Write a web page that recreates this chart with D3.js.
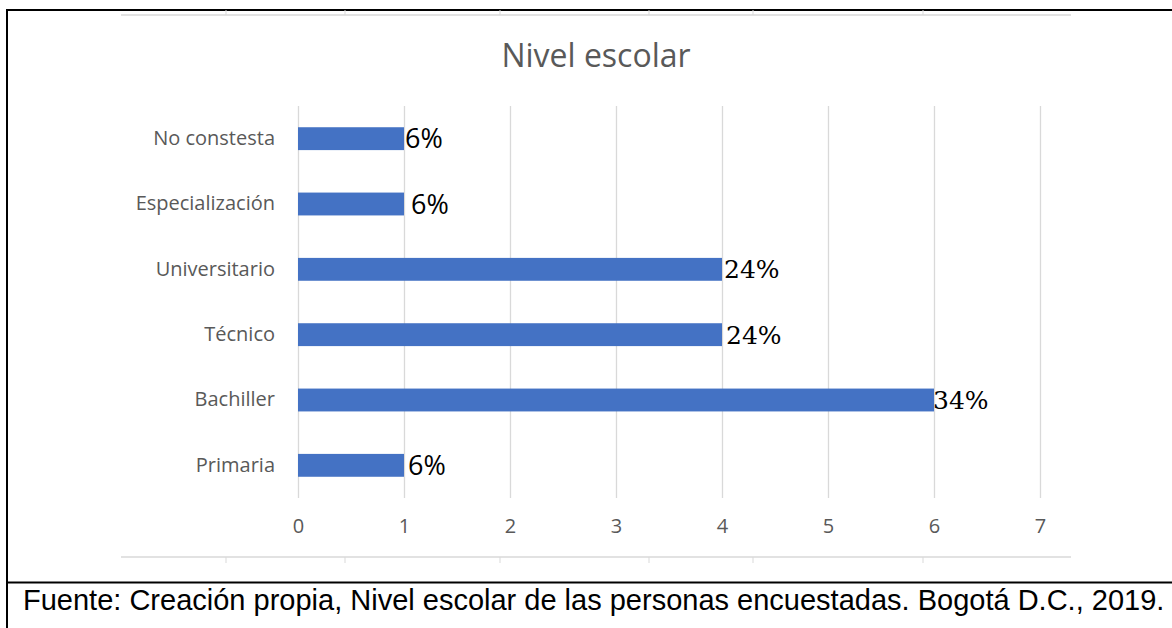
<!DOCTYPE html>
<html>
<head>
<meta charset="utf-8">
<script src="https://cdn.jsdelivr.net/npm/d3@7"></script>
<style>
  html, body { margin: 0; padding: 0; background: #fff; }
  svg { display: block; }
</style>
</head>
<body>
<div id="chart"></div>
<script>
//~~~~~~~~~~~~~~~~~~DATA
let categories = ['No constesta', 'Especialización', 'Universitario', 'Técnico', 'Bachiller', 'Primaria'];
let counts = [1, 1, 4, 4, 6, 1];
let percentLabels = ['6%', '6%', '24%', '24%', '34%', '6%'];
let xTicks = [0, 1, 2, 3, 4, 5, 6, 7];
let titleText = 'Nivel escolar';
let captionText = 'Fuente: Creación propia, Nivel escolar de las personas encuestadas. Bogotá D.C., 2019.';

//~~~~~~~~~~~~~~~~~~LAYOUT
let width = 1172;
let height = 628;
let plotLeft = 298, plotRight = 1040;
let plotTop = 106, plotBottom = 498;
let grey = '#595959';
let gridGrey = '#d9d9d9';
let barBlue = '#4472c4';
//small horizontal nudge of the value labels, as placed in the original
let labelNudge = [1, 7, 2, 4, -1, 4];

let svg = d3.select('#chart')
  .append('svg')
  .attr('width', width)
  .attr('height', height);

//scales
let x = d3.scaleLinear()
  .domain([0, 7])
  .range([plotLeft, plotRight]);

let y = d3.scaleBand()
  .domain(categories)
  .range([plotTop, plotBottom])
  .paddingInner(0.65)
  .paddingOuter(0.325);

//~~~~~~~~~~~~~~~~~~FRAME (black border + caption separator)
svg.append('line')
  .attr('x1', 7).attr('x2', width)
  .attr('y1', 10).attr('y2', 10)
  .attr('stroke', '#000').attr('stroke-width', 2);
svg.append('line')
  .attr('x1', 7).attr('x2', 7)
  .attr('y1', 9).attr('y2', height)
  .attr('stroke', '#000').attr('stroke-width', 2);
svg.append('line')
  .attr('x1', 7).attr('x2', width)
  .attr('y1', 582.5).attr('y2', 582.5)
  .attr('stroke', '#000').attr('stroke-width', 2);

//faint chart-area edges with little tick marks (left over from the cropped picture)
let edgeTicks = [226, 345, 500, 649, 753, 923];
[[15, -5], [557, 6]].forEach(function(e) {
  svg.append('line')
    .attr('x1', 121).attr('x2', 1071)
    .attr('y1', e[0]).attr('y2', e[0])
    .attr('stroke', gridGrey).attr('stroke-width', 1.5);
  svg.selectAll(null)
    .data(edgeTicks)
    .enter()
    .append('line')
    .attr('x1', function(d) { return d; })
    .attr('x2', function(d) { return d; })
    .attr('y1', e[0]).attr('y2', e[0] + e[1])
    .attr('stroke', gridGrey).attr('stroke-width', 1);
});

//~~~~~~~~~~~~~~~~~~TITLE
svg.append('text')
  .attr('x', 596)
  .attr('y', 67)
  .attr('text-anchor', 'middle')
  .style('font-family', '"Open Sans", sans-serif')
  .style('font-size', '32px')
  .style('fill', grey)
  .text(titleText);

//~~~~~~~~~~~~~~~~~~GRIDLINES
let grid = svg.append('g')
  .attr('transform', 'translate(0,' + plotBottom + ')')
  .call(d3.axisBottom(x)
    .tickValues(xTicks)
    .tickSize(-(plotBottom - plotTop))
    .tickFormat(''));
grid.select('.domain').remove();
grid.selectAll('line').attr('stroke', gridGrey).attr('stroke-width', 1.3);

//tick labels
let xAxis = svg.append('g')
  .attr('transform', 'translate(0,' + plotBottom + ')')
  .call(d3.axisBottom(x)
    .tickValues(xTicks)
    .tickFormat(d3.format('d'))
    .tickSize(0)
    .tickPadding(21));
xAxis.select('.domain').remove();
xAxis.selectAll('text')
  .style('font-family', '"Open Sans", sans-serif')
  .style('font-size', '20px')
  .style('fill', grey);

//category labels
let yAxis = svg.append('g')
  .attr('transform', 'translate(' + plotLeft + ',0)')
  .call(d3.axisLeft(y).tickSize(0).tickPadding(23));
yAxis.select('.domain').remove();
yAxis.selectAll('text')
  .style('font-family', '"Open Sans", sans-serif')
  .style('font-size', '20px')
  .style('fill', grey);

//~~~~~~~~~~~~~~~~~~BARS
svg.selectAll('.bar')
  .data(counts)
  .enter()
  .append('rect')
  .attr('class', 'bar')
  .attr('x', x(0))
  .attr('y', function(d, i) { return y(categories[i]); })
  .attr('width', function(d) { return x(d) - x(0); })
  .attr('height', y.bandwidth())
  .attr('fill', barBlue);

//value labels (6% is set in a sans face, the others in a serif one)
svg.selectAll('.value')
  .data(counts)
  .enter()
  .append('text')
  .attr('class', 'value')
  .attr('x', function(d, i) { return x(d) + labelNudge[i]; })
  .attr('y', function(d, i) { return y(categories[i]) + y.bandwidth() / 2; })
  .attr('dy', '0.36em')
  .style('font-family', function(d, i) {
    return percentLabels[i].length > 2 ? '"DejaVu Serif", serif' : '"Open Sans", sans-serif';
  })
  .style('font-size', function(d, i) { return percentLabels[i].length > 2 ? '25px' : '27px'; })
  .style('fill', '#000')
  .text(function(d, i) { return percentLabels[i]; });

//~~~~~~~~~~~~~~~~~~CAPTION
svg.append('text')
  .attr('x', 23)
  .attr('y', 610)
  .style('font-family', '"Liberation Sans", Arial, sans-serif')
  .style('font-size', '29px')
  .style('fill', '#000')
  .text(captionText);
</script>
</body>
</html>
